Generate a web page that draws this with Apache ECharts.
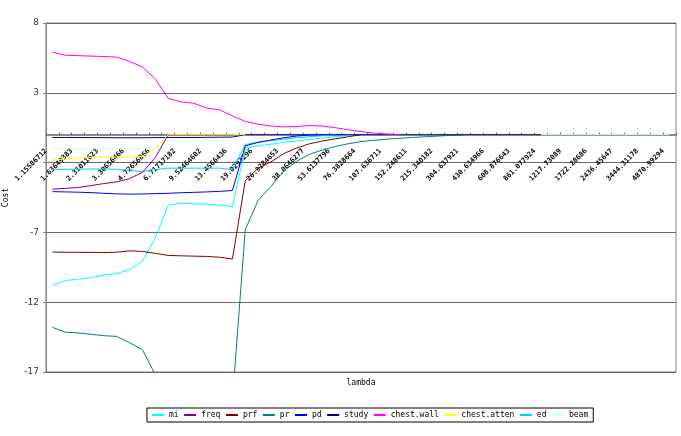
<!DOCTYPE html>
<html>
<head>
    <meta charset="utf-8">
    <title>cost vs lambda</title>
    <script src="https://cdn.jsdelivr.net/npm/echarts@6/dist/echarts.min.js"></script>
</head>
<body style="margin:0;">
<div id="costChart" style="width: 681px;height:436px;"></div>

<script>
    // lambda categories (only every other one gets a label)
    var lambdaVals = ['1.15586712','1.37534','1.63649383','1.94435','2.31011623','2.76379','3.30656466','3.95332',
        '4.72656866','5.63464','6.71717182','7.99867','9.52464602','11.3212','13.4566436','16.0022',
        '19.0293296','22.6369','26.9284653','32.0159','38.0646277','45.1751','53.6137796','63.9936',
        '76.3828664','90.673','107.636711','128.014','152.248611','181.067','215.340182','256.126',
        '304.637921','362.198','430.634966','512.058','608.876643','724.079','861.077924','1023.99',
        '1217.73089','1448.2','1722.28686','2048.49','2436.45647','2896.88','3444.31178','4096.0','4870.99294'];

    var yTicks = [8, 3, -2, -7, -12, -17];

    var mi = [-10.8,-10.45,-10.35,-10.25,-10.05,-9.95,-9.67,-9.05,-7.4,-5.05,-4.92,-4.95,-4.98,-5.05,-5.15,
        -0.95,-0.8,-0.68,-0.55,-0.45,-0.35,-0.25,-0.15,-0.07,0];
    var freq = [-3.9,-3.85,-3.78,-3.65,-3.5,-3.38,-3.15,-2.7,-1.65,0,0,0,0,0,0];
    var prf = [-8.41,-8.42,-8.43,-8.43,-8.44,-8.42,-8.32,-8.36,-8.5,-8.65,-8.68,-8.7,-8.72,-8.78,-8.9,
        -3.3,-2.4,-1.95,-1.35,-0.95,-0.65,-0.45,-0.3,-0.15,0];
    var pr = [-13.8,-14.15,-14.2,-14.3,-14.4,-14.45,-14.9,-15.4,-17.2,-18,-18.4,-18.6,-18.8,-18.9,-19,
        -6.8,-4.7,-3.7,-2.6,-1.9,-1.4,-1.1,-0.85,-0.65,-0.5,-0.4,-0.32,-0.26,-0.2,-0.15,-0.1,-0.05,0];
    var pd = [-4.08,-4.1,-4.12,-4.15,-4.2,-4.24,-4.26,-4.25,-4.22,-4.2,-4.16,-4.13,-4.1,-4.06,-4.0,
        -0.8,-0.55,-0.38,-0.22,-0.1,-0.02,0];
    var study = [-0.2,-0.2,-0.2,-0.21,-0.21,-0.22,-0.22,-0.22,-0.21,-0.2,-0.2,-0.2,-0.19,-0.18,-0.17,
        0,0,0,0,0,0,0,0,0,0,0,0,0,0,0,0,0,0,0,0,0,0,0,0];
    var chestWall = [5.92,5.69,5.66,5.63,5.6,5.55,5.25,4.85,4.0,2.6,2.35,2.25,1.9,1.78,1.35,
        0.95,0.75,0.62,0.56,0.58,0.66,0.62,0.5,0.35,0.22,0.12,0.05,0];
    var chestAtten = [-1.82,-1.75,-1.68,-1.62,-1.58,-1.6,-1.62,-1.55,-1.0,0,0,0,0,0,0,0];
    var ed = [-2.48,-2.48,-2.47,-2.46,-2.45,-2.48,-2.55,-2.65,-2.5,-2.4,-2.4,-2.4,-2.4,-2.4,-2.5,
        -0.7,-0.55,-0.42,-0.32,-0.22,-0.14,-0.08,-0.03,0];
    var beam = [-1,-1,-1,-1,-1,-1,-1,-1,-1,-0.4,-0.4,-0.4,-0.4,-0.4,-0.4,
        0,0,0,0,0,0,0,0,0,0,0,0,0,0,0,0,0,0,0,0,0,0,0,0,0,0,0,0,0,0,0,0,0,0];

    var legendOrder = ['mi','freq','prf','pr','pd','study','chest.wall','chest.atten','ed','beam'];

    // plot box
    var gridTop = 23, gridBottom = 64, chartH = 436;
    var yMin = -17, yMax = 8;
    var plotH = chartH - gridTop - gridBottom;
    // move the category axis up to the value 0
    var zeroOffset = -(plotH * (0 - yMin) / (yMax - yMin));

    function line(name, data, color){
        return {
            name: name,
            type: 'line',
            data: data,
            symbol: 'none',
            smooth: false,
            lineStyle: {color: color, width: 1},
            itemStyle: {color: color}
        };
    }

    var chart = echarts.init(document.getElementById('costChart'));
    chart.setOption({
        animation: false,
        backgroundColor: '#fff',
        grid: {left: 46, right: 5, top: gridTop, bottom: gridBottom, outerBoundsMode: 'none',
            show: true, borderColor: '#808080', borderWidth: 1},
        legend: {
            data: legendOrder,
            left: 147, top: 408,
            orient: 'horizontal',
            icon: 'rect',
            itemWidth: 12, itemHeight: 2, itemGap: 5.5,
            padding: [3, 5],
            borderColor: '#000', borderWidth: 1,
            textStyle: {fontSize: 8, fontFamily: 'DejaVu Sans Mono', color: '#000'}
        },
        xAxis: {
            type: 'category',
            data: lambdaVals,
            boundaryGap: true,
            offset: zeroOffset,
            name: 'lambda',
            nameLocation: 'middle',
            nameGap: 244,
            nameTextStyle: {fontSize: 8, fontFamily: 'DejaVu Sans Mono', color: '#000'},
            axisLine: {onZero: false, lineStyle: {color: '#8a8a8a', width: 2}},
            axisTick: {show: true, inside: true, length: 2, interval: 0, lineStyle: {color: '#555'}},
            axisLabel: {
                interval: 1, rotate: 45, margin: 9,
                padding: [0, 9, 0, 0],
                fontSize: 7, fontWeight: 'bold', fontFamily: 'DejaVu Sans Mono', color: '#000'
            },
            splitLine: {show: false}
        },
        yAxis: {
            type: 'value',
            min: yMin, max: yMax, interval: 5,
            name: 'Cost',
            nameLocation: 'middle',
            nameRotate: 90,
            nameGap: 36,
            nameTextStyle: {fontSize: 8, fontFamily: 'DejaVu Sans Mono', color: '#000'},
            axisLine: {show: true, lineStyle: {color: '#808080'}},
            axisTick: {show: true, length: 3, lineStyle: {color: '#808080'}},
            axisLabel: {
                margin: 7, fontSize: 9, fontFamily: 'DejaVu Sans', color: '#333',
                formatter: function(v){ return yTicks.indexOf(v) >= 0 && v !== -2 ? String(v) : ''; }
            },
            splitLine: {show: true, lineStyle: {color: '#666', width: 1}}
        },
        // drawing order: later series sit on top of the zero line
        series: [
            line('beam', beam, '#CCFFFF'),
            line('mi', mi, '#00FFFF'),
            line('ed', ed, '#00CCFF'),
            line('freq', freq, '#800080'),
            line('prf', prf, '#800000'),
            line('pr', pr, '#008080'),
            line('study', study, '#000080'),
            line('pd', pd, '#0000FF'),
            line('chest.wall', chestWall, '#FF00FF'),
            line('chest.atten', chestAtten, '#FFFF00')
        ]
    });
</script>
</body>
</html>
